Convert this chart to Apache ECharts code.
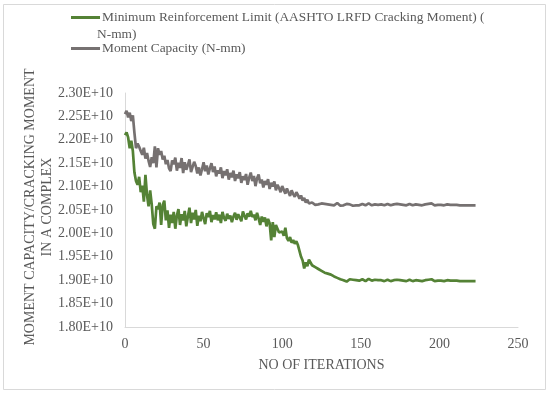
<!DOCTYPE html>
<html>
<head>
<meta charset="utf-8">
<script src="https://cdn.jsdelivr.net/npm/echarts@6/dist/echarts.min.js"></script>
<style>html,body{margin:0;padding:0;background:#fff;}#c{width:550px;height:395px;}</style>
</head>
<body>
<div id="c"></div>
<script>
// Values in units of 1E+10 N-mm, one per iteration (0,1,2,...)
var minReinforcement = [
2.210,2.216,2.205,2.182,2.198,2.176,2.130,2.112,2.104,2.121,
2.088,2.102,2.068,2.125,2.082,2.058,2.092,2.062,2.020,2.010,
2.058,2.052,2.066,2.018,2.061,2.070,2.028,2.049,2.012,2.040,
2.022,2.046,2.010,2.038,2.052,2.018,2.041,2.028,2.048,2.015,
2.036,2.055,2.022,2.044,2.030,2.050,2.016,2.038,2.026,2.046,
2.032,2.020,2.043,2.035,2.048,2.024,2.039,2.030,2.045,2.028,
2.040,2.022,2.046,2.033,2.027,2.042,2.031,2.038,2.024,2.036,
2.044,2.029,2.041,2.034,2.026,2.047,2.038,2.030,2.043,2.036,
2.048,2.035,2.040,2.028,2.044,2.032,2.018,2.036,2.025,2.034,
2.015,2.031,2.022,1.985,2.024,1.992,2.018,2.010,2.002,1.998,
2.004,1.995,2.012,1.990,1.984,1.992,1.980,1.986,1.978,1.983,
1.975,1.972,1.950,1.942,1.925,1.938,1.930,1.944,1.940,1.932,
1.935,1.928,1.930,1.924,1.926,1.920,1.922,1.916,1.920,1.914,
1.918,1.912,1.915,1.908,1.910,1.905,1.908,1.902,1.905,1.900,
1.903,1.897,1.895,1.902,1.899,1.901,1.898,1.900,1.902,1.899,
1.900,1.902,1.899,1.898,1.901,1.903,1.900,1.899,1.900,1.901,
1.899,1.900,1.898,1.900,1.899,1.898,1.900,1.901,1.899,1.898,
1.899,1.900,1.904,1.901,1.899,1.900,1.898,1.899,1.900,1.898,
1.899,1.901,1.900,1.898,1.902,1.900,1.903,1.899,1.901,1.898,
1.902,1.900,1.898,1.901,1.899,1.902,1.900,1.898,1.900,1.899,
1.901,1.899,1.900,1.898,1.899,1.900,1.898,1.899,1.898,1.899,
1.898,1.899,1.898,1.898,1.899,1.898,1.898,1.898,1.899,1.898,
1.898,1.898,1.898,1.898
];
var momentCapacity = [
2.255,2.262,2.248,2.258,2.240,2.252,2.215,2.182,2.192,2.185,
2.176,2.168,2.183,2.160,2.172,2.155,2.142,2.163,2.150,2.186,
2.141,2.182,2.168,2.176,2.158,2.166,2.148,2.157,2.139,2.133,
2.156,2.148,2.162,2.134,2.151,2.140,2.161,2.129,2.152,2.136,
2.146,2.158,2.131,2.142,2.153,2.144,2.128,2.141,2.124,2.137,
2.152,2.133,2.145,2.126,2.139,2.150,2.131,2.143,2.122,2.135,
2.128,2.141,2.118,2.133,2.124,2.137,2.115,2.129,2.120,2.134,
2.112,2.126,2.118,2.131,2.108,2.122,2.114,2.127,2.104,2.119,
2.130,2.112,2.123,2.101,2.118,2.126,2.107,2.115,2.098,2.112,
2.104,2.116,2.095,2.108,2.100,2.111,2.092,2.104,2.097,2.088,
2.101,2.093,2.085,2.096,2.088,2.080,2.092,2.084,2.078,2.088,
2.082,2.074,2.081,2.070,2.076,2.066,2.072,2.064,2.060,2.066,
2.063,2.061,2.065,2.062,2.060,2.064,2.061,2.063,2.060,2.062,
2.064,2.061,2.063,2.060,2.062,2.065,2.061,2.059,2.062,2.060,
2.061,2.063,2.060,2.062,2.061,2.059,2.061,2.060,2.062,2.060,
2.061,2.063,2.061,2.060,2.062,2.064,2.061,2.060,2.061,2.062,
2.060,2.061,2.060,2.062,2.061,2.060,2.061,2.063,2.061,2.060,
2.061,2.062,2.066,2.063,2.061,2.062,2.060,2.061,2.062,2.060,
2.061,2.063,2.062,2.060,2.064,2.062,2.065,2.061,2.063,2.060,
2.064,2.062,2.060,2.063,2.061,2.064,2.062,2.060,2.062,2.061,
2.063,2.061,2.062,2.060,2.061,2.062,2.060,2.061,2.060,2.061,
2.060,2.061,2.060,2.060,2.061,2.060,2.060,2.060,2.061,2.060,
2.060,2.060,2.060,2.060
];
var seriesNames = [
  'Minimum Reinforcement Limit (AASHTO LRFD Cracking Moment) (N-mm)',
  'Moment Capacity (N-mm)'
];
var legendFirstLine = 'Minimum Reinforcement Limit (AASHTO LRFD Cracking Moment) (';
var legendSecondLine = 'N-mm)';
var xTicks = [0, 50, 100, 150, 200, 250];
var yTicks = [1.80, 1.85, 1.90, 1.95, 2.00, 2.05, 2.10, 2.15, 2.20, 2.25, 2.30];
var xTitle = 'NO OF ITERATIONS';
var yTitle = 'MOMENT CAPACITY/CRACKING MOMENT\nIN A COMPLEX';

var FONT = '"Liberation Serif", "Times New Roman", serif';
var TXT = '#595959';
var GREEN = '#548235';
var GRAY = '#767171';
var LEG = 13.4;

var chart = echarts.init(document.getElementById('c'), null, {renderer: 'canvas'});
chart.setOption({
  animation: false,
  backgroundColor: '#fff',
  graphic: [
    {type: 'rect', shape: {x: 3.5, y: 4.5, width: 542, height: 385}, style: {fill: 'none', stroke: '#d9d9d9', lineWidth: 1}, z: -1},
    {type: 'text', left: 97, top: 27.5, style: {text: legendSecondLine, font: LEG + 'px ' + FONT, fill: TXT}},
    {type: 'text', x: 38.5, y: 207, rotation: Math.PI / 2,
     style: {text: yTitle, font: '14px ' + FONT, fill: TXT, align: 'center', verticalAlign: 'middle', lineHeight: 17}}
  ],
  legend: [
    {data: [seriesNames[0]], left: 66, top: 6, icon: 'rect', itemWidth: 29, itemHeight: 3, itemGap: 0,
     formatter: function () { return legendFirstLine; },
     textStyle: {fontFamily: FONT, fontSize: LEG, color: TXT, padding: [0,0,0,-3]}},
    {data: [seriesNames[1]], left: 66, top: 37, icon: 'rect', itemWidth: 29, itemHeight: 3,
     textStyle: {fontFamily: FONT, fontSize: LEG, color: TXT, padding: [0,0,0,-3]}}
  ],
  grid: {left: 125, right: 32, top: 93, bottom: 68, containLabel: false},
  xAxis: {
    type: 'value', min: xTicks[0], max: xTicks[xTicks.length-1], interval: 50,
    name: xTitle, nameLocation: 'middle', nameGap: 31,
    nameTextStyle: {fontFamily: FONT, fontSize: 14, color: TXT},
    axisLine: {show: true, lineStyle: {color: '#d9d9d9', width: 1}},
    axisTick: {show: false},
    splitLine: {show: false},
    axisLabel: {fontFamily: FONT, fontSize: 14, color: TXT, margin: 10}
  },
  yAxis: {
    type: 'value', min: yTicks[0], max: yTicks[yTicks.length-1], interval: 0.05,
    axisLine: {show: true, lineStyle: {color: '#d9d9d9', width: 1}},
    axisTick: {show: false},
    splitLine: {show: false},
    axisLabel: {fontFamily: FONT, fontSize: 14, color: TXT, margin: 12,
      formatter: function (v) { return v.toFixed(2) + 'E+10'; }}
  },
  series: [
    {name: seriesNames[0], type: 'line', showSymbol: false, symbol: 'none',
     lineStyle: {color: GREEN, width: 2.7}, itemStyle: {color: GREEN},
     data: minReinforcement.map(function (v, i) { return [i, v]; })},
    {name: seriesNames[1], type: 'line', showSymbol: false, symbol: 'none',
     lineStyle: {color: GRAY, width: 2.7}, itemStyle: {color: GRAY},
     data: momentCapacity.map(function (v, i) { return [i, v]; })}
  ]
});
</script>
</body>
</html>
